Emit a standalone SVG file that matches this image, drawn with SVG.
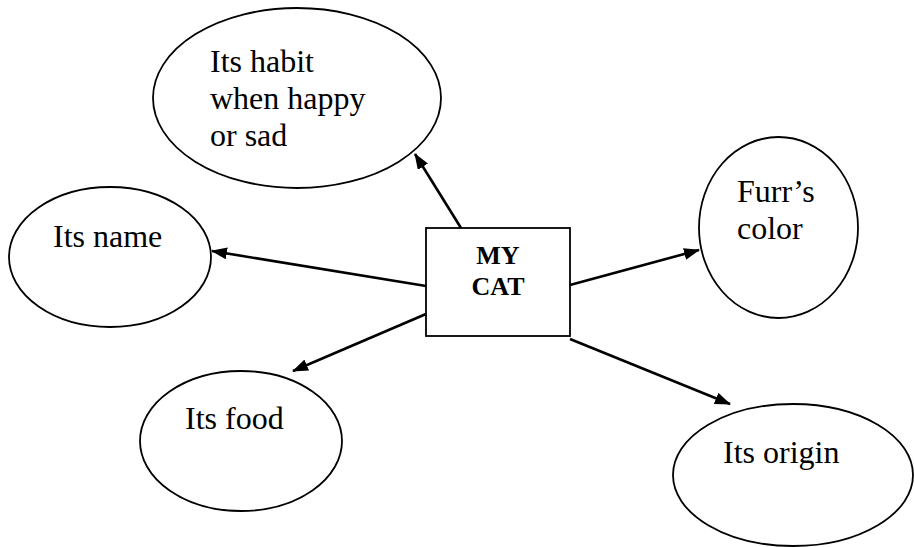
<svg xmlns="http://www.w3.org/2000/svg" width="914" height="547" viewBox="0 0 914 547">
<style>
.node ellipse, .node rect { fill: #fff; stroke: #000; stroke-width: 1.8; }
.lbl { font-family: "Liberation Serif", "Times New Roman", serif; font-size: 32px; fill: #000; }
.bold { font-family: "Liberation Serif", "Times New Roman", serif; font-size: 26px; font-weight: bold; fill: #000; }
.conn line { stroke: #000; stroke-width: 2.6; marker-end: url(#arr); }
</style>
<defs>
<marker id="arr" viewBox="0 0 16 12" refX="15" refY="6" markerWidth="16" markerHeight="12" markerUnits="userSpaceOnUse" orient="auto">
<path d="M0,0 L16,6 L0,12 z" fill="#000"/>
</marker>
</defs>
<rect width="914" height="547" fill="#fff"/>
<g id="habit" class="node">
<ellipse cx="297" cy="98" rx="144" ry="90"/>
<text class="lbl" x="210" y="72">Its habit</text>
<text class="lbl" x="210" y="109">when happy</text>
<text class="lbl" x="210" y="146">or sad</text>
</g>
<g id="name" class="node">
<ellipse cx="110" cy="257" rx="101" ry="70"/>
<text class="lbl" x="53" y="247">Its name</text>
</g>
<g id="food" class="node">
<ellipse cx="241" cy="441" rx="101" ry="70"/>
<text class="lbl" x="185" y="429">Its food</text>
</g>
<g id="furr" class="node">
<ellipse cx="778.5" cy="227.5" rx="79.5" ry="90.5"/>
<text class="lbl" x="737" y="202">Furr’s</text>
<text class="lbl" x="737" y="239">color</text>
</g>
<g id="origin" class="node">
<ellipse cx="793" cy="475" rx="120" ry="71"/>
<text class="lbl" x="723" y="463">Its origin</text>
</g>
<g id="mycat" class="node">
<rect x="426" y="228" width="144" height="108"/>
<text class="bold" x="498" y="264" text-anchor="middle">MY</text>
<text class="bold" x="498" y="295" text-anchor="middle">CAT</text>
</g>
<g id="connectors" class="conn">
<line x1="461" y1="228" x2="415" y2="154"/>
<line x1="426" y1="286" x2="212" y2="251"/>
<line x1="426" y1="314" x2="293" y2="371"/>
<line x1="570" y1="285" x2="699" y2="250"/>
<line x1="570" y1="339" x2="730" y2="404"/>
</g>
</svg>
